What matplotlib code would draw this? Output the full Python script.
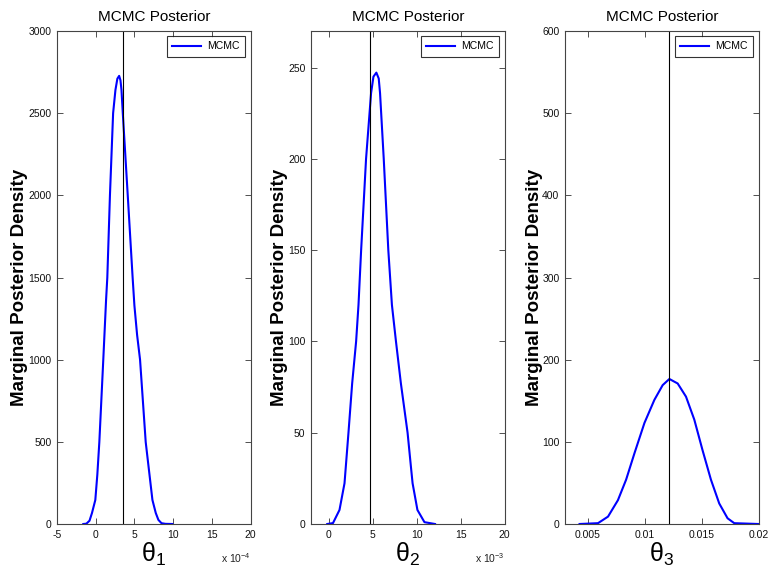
import numpy as np
import matplotlib
matplotlib.use('Agg')
import matplotlib.pyplot as plt

plt.rcParams['font.family'] = ['Liberation Sans', 'DejaVu Sans']
plt.rcParams['mathtext.fontset'] = 'custom'
plt.rcParams['mathtext.rm'] = 'Liberation Sans'
plt.rcParams['mathtext.it'] = 'Liberation Sans'

# marginal posterior densities (x already scaled by 1e-4 / 1e-3)
theta1_x = [-1.6, -1.2, -0.8, -0.48, -0.05, 0.21, 0.47, 0.98, 1.34, 1.5, 1.84, 2.25, 2.55, 2.8, 3.03,
            3.2, 3.33, 3.5, 4.14, 4.77, 5.0, 5.35, 5.73, 6.46, 6.95, 7.33, 7.76, 8.1, 8.5, 9.0, 9.9]
theta1_y = [0, 2, 20, 67, 146, 300, 499, 1000, 1363, 1500, 2000, 2500, 2641, 2710, 2727,
            2700, 2641, 2500, 2000, 1500, 1330, 1150, 1000, 499, 300, 146, 67, 25, 5, 1, 0]

theta2_x = [-0.15, 0.5, 1.24, 1.81, 2.26, 2.68, 3.13, 3.4, 3.7, 4.26, 4.83, 5.1, 5.43,
            5.7, 5.85, 6.27, 6.79, 7.2, 7.66, 8.22, 8.98, 9.36, 9.55, 10.1, 10.9, 12.1]
theta2_y = [0, 0.5, 7.7, 22.3, 50, 77, 100, 120, 150, 200, 236, 245, 247.2,
            244, 236, 200, 150, 120, 100, 77, 50, 31.4, 22.3, 7.7, 1, 0]

theta3_x = [0.00428, 0.0059, 0.00678, 0.00765, 0.00837, 0.0091, 0.00998, 0.01085, 0.01158, 0.01217,
            0.0129, 0.01363, 0.01436, 0.01508, 0.01582, 0.01655, 0.01728, 0.01787, 0.02]
theta3_y = [0, 1, 9, 29, 54, 86, 123, 151, 169, 176.5,
            171, 155, 127, 90, 54, 25, 7, 1, 0]

true_vals = [3.5, 4.7, 0.0121]   # black vertical lines

xlims = [(-5, 20), (-2, 20), (0.003, 0.02)]
ylims = [(0, 3000), (0, 270), (0, 600)]
xticks = [[-5, 0, 5, 10, 15, 20], [0, 5, 10, 15, 20], [0.005, 0.01, 0.015, 0.02]]
xticklabels = [['-5', '0', '5', '10', '15', '20'], ['0', '5', '10', '15', '20'],
               ['0.005', '0.01', '0.015', '0.02']]
yticks = [np.arange(0, 3001, 500), np.arange(0, 251, 50), np.arange(0, 601, 100)]
xlabels = [r'$\mathrm{\theta}_1$', r'$\mathrm{\theta}_2$', r'$\mathrm{\theta}_3$']
scale_labels = [r'x 10$^{-4}$', r'x 10$^{-3}$', None]

xs = [theta1_x, theta2_x, theta3_x]
ys = [theta1_y, theta2_y, theta3_y]

fig = plt.figure(figsize=(7.69, 5.71), dpi=100)
lefts = [57, 311, 565]
ylab_x = [-0.15, -0.12, -0.115]

for i in range(3):
    ax = fig.add_axes([lefts[i] / 769, 47 / 571, 193.5 / 769, 493 / 571])
    ax.plot(xs[i], ys[i], color='#0000ff', lw=1.5, label='MCMC')
    ax.axvline(true_vals[i], color='k', lw=0.8)
    ax.set_xlim(xlims[i])
    ax.set_ylim(ylims[i])
    ax.set_xticks(xticks[i])
    ax.set_xticklabels(xticklabels[i])
    ax.set_yticks(yticks[i])
    ax.tick_params(direction='in', top=True, right=True, length=4, width=0.6,
                   labelsize=7.5, colors='#333333', labelcolor='#111111', pad=4)
    for sp in ax.spines.values():
        sp.set_color('#444444')
        sp.set_linewidth(0.8)
    ax.set_title('MCMC Posterior', fontsize=11, pad=7)
    ax.set_ylabel('Marginal Posterior Density', fontsize=13.5, fontweight='bold')
    ax.yaxis.set_label_coords(ylab_x[i], 0.48)
    ax.set_xlabel(xlabels[i], fontsize=18, labelpad=1)
    if scale_labels[i]:
        ax.text(1.0, -0.055, scale_labels[i], transform=ax.transAxes, ha='right', va='top',
                fontsize=7.5, color='#222222')
    leg = ax.legend(loc='upper right', fontsize=7.5, handlelength=2.8, fancybox=False,
                    borderaxespad=0.5, borderpad=0.5, handletextpad=0.6)
    leg.get_frame().set_edgecolor('k')
    leg.get_frame().set_linewidth(0.8)

fig.savefig('out.png', dpi=100)
